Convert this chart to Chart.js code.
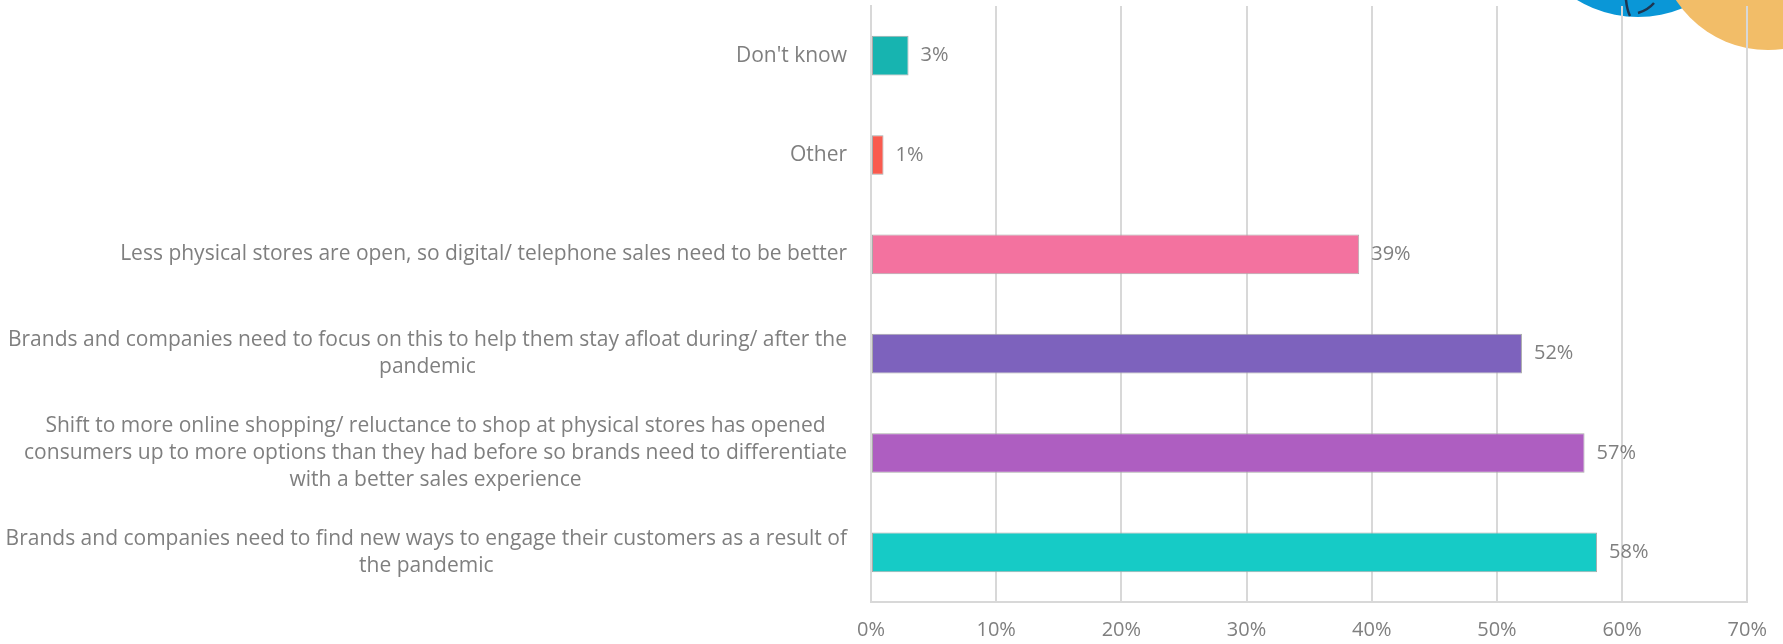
<!DOCTYPE html>
<html>
<head>
<meta charset="utf-8">
<script src="https://cdn.jsdelivr.net/npm/chart.js@4"></script>
<style>
    body { margin: 0; background: #fff; }
    #wrap { width: 1783px; height: 644px; position: relative; }
</style>
</head>
<body>
<div id="wrap"><canvas id="reasonsChart"></canvas></div>
<script>
const categories = [
    ["Don't know"],
    ['Other'],
    ['Less physical stores are open, so digital/ telephone sales need to be better'],
    ['Brands and companies need to focus on this to help them stay afloat during/ after the', 'pandemic'],
    ['Shift to more online shopping/ reluctance to shop at physical stores has opened',
     'consumers up to more options than they had before so brands need to differentiate',
     'with a better sales experience'],
    ['Brands and companies need to find new ways to engage their customers as a result of', 'the pandemic']
];
const shares = [3, 1, 39, 52, 57, 58];
const barColors = ['#17b4b0', '#f95b4f', '#f3729f', '#7d62bd', '#ae5ec1', '#16cbc6'];
const xTicks = [0, 10, 20, 30, 40, 50, 60, 70];

const fontFamily = '"Open Sans", Lato, sans-serif';
const fontSize = 21;
const textGrey = '#7f7f7f';
const gridGrey = '#d8d8d8';

// category text: right-aligned block, lines centred inside the block
const categoryLabels = {
    id: 'categoryLabels',
    afterDraw(chart) {
        const { ctx, scales: { y } } = chart;
        const rightEdge = y.right - 24;
        const lineHeight = 27;
        ctx.save();
        ctx.font = `${fontSize}px ${fontFamily}`;
        ctx.fillStyle = textGrey;
        ctx.textAlign = 'center';
        ctx.textBaseline = 'middle';
        categories.forEach((lines, i) => {
            const yMid = y.getPixelForValue(i);
            const blockW = Math.max(...lines.map(l => ctx.measureText(l).width));
            const cx = rightEdge - blockW / 2;
            const top = yMid - (lines.length - 1) * lineHeight / 2;
            lines.forEach((line, j) => ctx.fillText(line, cx, top + j * lineHeight));
        });
        ctx.restore();
    }
};

// percentage labels after each bar
const valueLabels = {
    id: 'valueLabels',
    afterDatasetsDraw(chart) {
        const { ctx } = chart;
        const meta = chart.getDatasetMeta(0);
        ctx.save();
        ctx.font = `${fontSize - 1}px ${fontFamily}`;
        ctx.fillStyle = textGrey;
        ctx.textAlign = 'left';
        ctx.textBaseline = 'middle';
        meta.data.forEach((bar, i) => {
            ctx.fillText(shares[i] + '%', bar.x + 12, bar.y);
        });
        ctx.restore();
    }
};

// logo fragment in the top right corner
const cornerLogo = {
    id: 'cornerLogo',
    beforeDraw(chart) {
        const { ctx } = chart;
        ctx.save();
        ctx.fillStyle = '#0a97d7';
        ctx.beginPath();
        ctx.arc(1638, -101, 118, 0, Math.PI * 2);
        ctx.fill();
        ctx.strokeStyle = '#1d3550';
        ctx.lineWidth = 2.5;
        ctx.beginPath();
        ctx.moveTo(1626, 0);
        ctx.quadraticCurveTo(1627, 10, 1630, 16);
        ctx.moveTo(1638, 13);
        ctx.quadraticCurveTo(1648, 10, 1654, 3);
        ctx.stroke();
        ctx.fillStyle = '#f2bd68';
        ctx.beginPath();
        ctx.arc(1768, -60, 110, 0, Math.PI * 2);
        ctx.fill();
        ctx.restore();
    }
};

new Chart(document.getElementById('reasonsChart'), {
    type: 'bar',
    data: {
        labels: categories,
        datasets: [{
            data: shares,
            backgroundColor: barColors,
            borderColor: '#a9a9a9',
            borderWidth: 1,
            borderSkipped: false,
            barPercentage: 0.4,
            categoryPercentage: 1
        }]
    },
    options: {
        indexAxis: 'y',
        responsive: true,
        maintainAspectRatio: false,
        animation: false,
        layout: { padding: { top: 6, right: 29, left: 0, bottom: 0 } },
        plugins: {
            legend: { display: false },
            tooltip: { enabled: false }
        },
        scales: {
            x: {
                min: 0,
                max: 70,
                afterBuildTicks: scale => {
                    scale.ticks = xTicks.map(v => ({ value: v }));
                },
                afterFit: scale => { scale.height = 42; },
                grid: { color: gridGrey, lineWidth: 2, drawTicks: false },
                border: { color: gridGrey, width: 2 },
                ticks: {
                    padding: 16,
                    color: textGrey,
                    font: { family: fontFamily, size: fontSize - 1 },
                    callback: v => v + '%'
                }
            },
            y: {
                afterFit: scale => { scale.width = 871; },
                grid: { display: false, drawTicks: false },
                border: { color: gridGrey, width: 2 },
                ticks: { display: false }
            }
        }
    },
    plugins: [cornerLogo, categoryLabels, valueLabels]
});
</script>
</body>
</html>
